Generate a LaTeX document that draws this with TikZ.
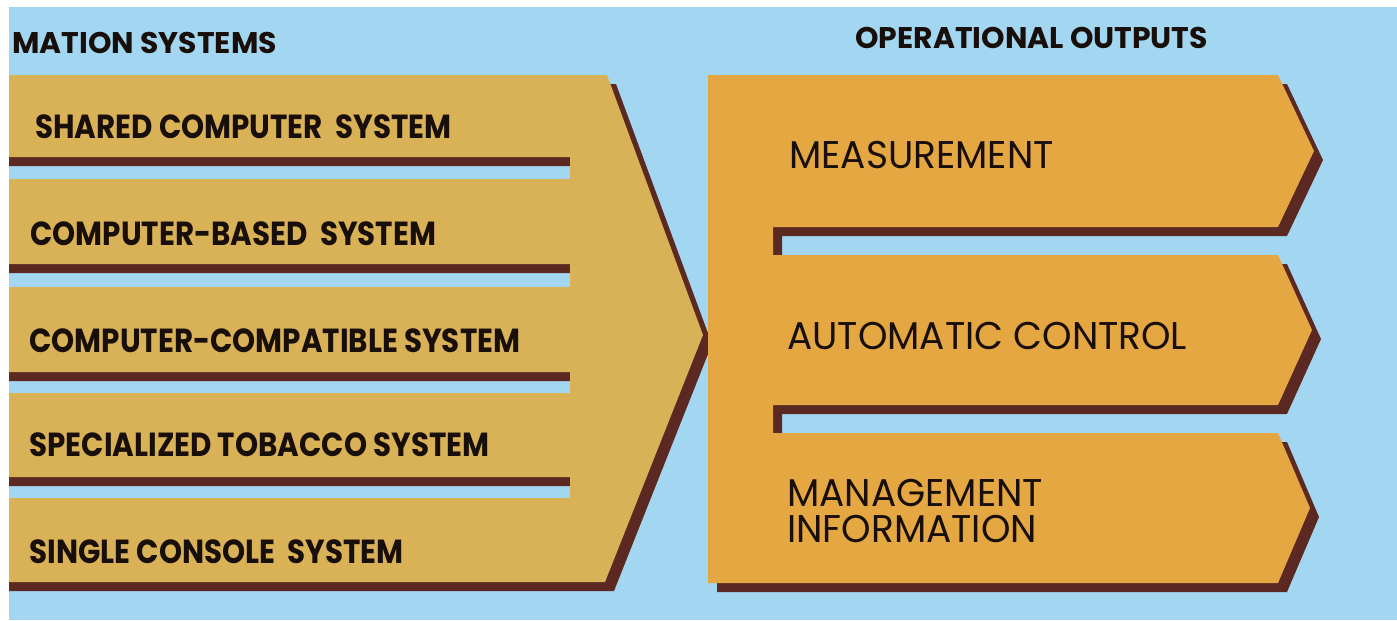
\documentclass[tikz,border=0pt]{standalone}
\usepackage{fontspec}
\usepackage{tikz}
\usetikzlibrary{positioning}
\newfontfamily\bandfont[FakeStretch=0.88]{Poppins}
\newfontfamily\outfont[FakeStretch=0.97]{Poppins}
\newfontfamily\headfont{Poppins}
\definecolor{sky}{RGB}{163,215,241}
\definecolor{tan}{RGB}{217,178,88}
\definecolor{ochre}{RGB}{228,167,66}
\definecolor{shadowbrown}{RGB}{92,40,34}
\definecolor{ink}{RGB}{24,14,10}

% left chevron with four slots cut in it
\newcommand{\inputshape}{%
  (-60,75) -- (607,75) -- (703,335) -- (605,582) -- (-60,582) -- cycle
  (-60,157) rectangle (570,179)
  (-60,264) rectangle (570,287)
  (-60,372) rectangle (570,393)
  (-60,477) rectangle (570,498)}
% right comb with three arrow heads
\newcommand{\outputshape}{%
  (708,75) -- (1278,75) -- (1314,151) -- (1278,227) -- (773,227) --
  (773,255) -- (1278,255) -- (1312,330) -- (1278,405) -- (773,405) --
  (773,433) -- (1278,433) -- (1310,508) -- (1278,583) -- (708,583) -- cycle}

\begin{document}
\begin{tikzpicture}[x=0.02cm, y=-0.02cm,
    shade/.style={fill=shadowbrown, even odd rule, shift={(9,9)}},
    bandtext/.style={anchor=west, inner sep=0pt, text=ink, font=\bandfont\bfseries\fontsize{19}{19}\selectfont},
    outtext/.style={anchor=west, inner sep=0pt, text=ink, align=left, font=\outfont\fontsize{22}{20}\selectfont},
    headtext/.style={inner sep=0pt, text=ink, font=\headfont\bfseries\fontsize{17}{17}\selectfont}]
  \useasboundingbox (0,0) rectangle (1397,620);
  \fill[white] (0,0) rectangle (1397,620);

  \begin{scope}
    \clip (9,7) rectangle (1397,620);
    \fill[sky] (9,7) rectangle (1397,620);

    % headings
    \node[headtext, anchor=west] (inhead) at (12,43) {MATION SYSTEMS};
    \node[headtext, anchor=west] (outhead) at (855,38) {OPERATIONAL OUTPUTS};

    % shadows first, then the shapes
    \fill[shade] \inputshape;
    \fill[shade] \outputshape;
    \fill[tan, even odd rule] \inputshape;
    \fill[ochre] \outputshape;

    % input systems
    \node[bandtext] (shared) at (35,127) {SHARED COMPUTER \ SYSTEM};
    \node[bandtext] (based) at (30,234) {COMPUTER-BASED \ SYSTEM};
    \node[bandtext] (compat) at (29,341) {COMPUTER-COMPATIBLE SYSTEM};
    \node[bandtext] (tobacco) at (29,445) {SPECIALIZED TOBACCO SYSTEM};
    \node[bandtext] (console) at (29,552) {SINGLE CONSOLE \ SYSTEM};

    % outputs
    \node[outtext] (measure) at (789,155) {MEASUREMENT};
    \node[outtext] (control) at (787,336) {AUTOMATIC CONTROL};
    \node[outtext] (manage) at (787,511) {MANAGEMENT\\INFORMATION};
  \end{scope}
\end{tikzpicture}
\end{document}
